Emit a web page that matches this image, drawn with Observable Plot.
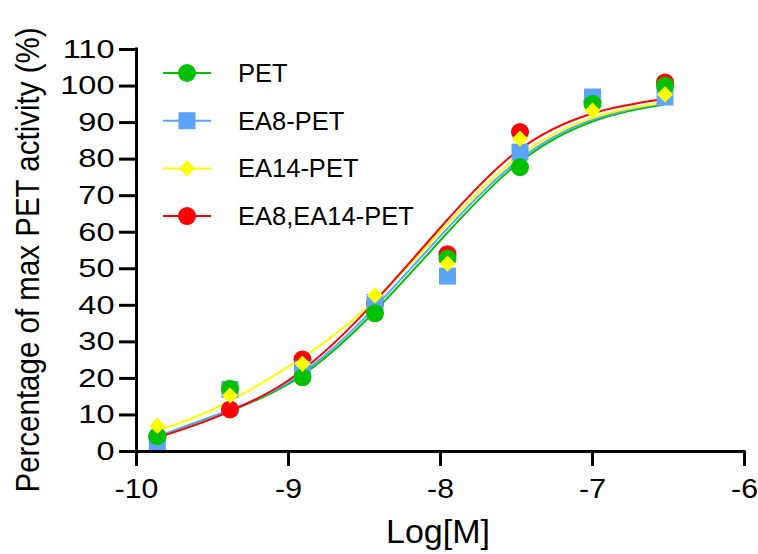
<!DOCTYPE html>
<html>
<head>
<meta charset="utf-8">
<script src="https://cdn.jsdelivr.net/npm/d3@7"></script>
<script src="https://cdn.jsdelivr.net/npm/@observablehq/plot@0.6"></script>
<style>
  body { margin: 0; background: #fff; }
  #wrap { position: relative; width: 758px; height: 554px; font-family: "Liberation Sans", Arial, sans-serif; color: #000; }
  #wrap svg { display: block; }
  .overlay { position: absolute; left: 0; top: 0; pointer-events: none; }
  #xtitle { position: absolute; left: 288px; width: 300px; top: 514px; text-align: center; font-size: 34px; line-height: 1; }
  #ytitle { position: absolute; left: 27px; top: 260px; width: 500px; margin-left: -250px; text-align: center; font-size: 29.5px; line-height: 1; transform: translateY(-50%) rotate(-90deg) scaleY(1.15); white-space: nowrap; }
</style>
</head>
<body>
<div id="wrap"></div>
<script>
// ---- data ----
const xDomain = [-10, -6];
const yDomain = [0, 110];
const xTicks = [-10, -9, -8, -7, -6];
const yTicks = [0, 10, 20, 30, 40, 50, 60, 70, 80, 90, 100, 110];

const seriesNames = ["PET", "EA8-PET", "EA14-PET", "EA8,EA14-PET"];

// measured points (Log[M], % of max PET activity)
const logConc = [-9.863, -9.385, -8.908, -8.431, -7.954, -7.477, -7.0, -6.523];
const petValues      = [4.2, 17.2, 20.3, 37.8, 52.8, 77.8, 95.1, 100.1];
const ea8Values      = [2.0, 17.0, 22.5, 40.8, 48.0, 81.9, 97.0, 97.0];
const ea14Values     = [7.0, 15.3, 24.0, 42.7, 51.4, 85.6, 93.3, 97.7];
const ea8ea14Values  = [4.0, 11.5, 25.2, 40.5, 54.0, 87.4, 95.8, 101.0];

// fitted curves
const fitX        = [-9.863, -9.5, -9.0, -8.5, -8.0, -7.5, -7.0, -6.523];
const petFit      = [4.0, 9.5, 18.5, 35.5, 57.8, 78.5, 90.3, 95.0];
const ea8Fit      = [4.0, 9.6, 19.0, 36.5, 59.0, 79.3, 90.8, 95.3];
const ea14Fit     = [5.7, 11.5, 23.2, 38.8, 60.2, 80.3, 91.3, 95.5];
const ea8ea14Fit  = [3.8, 9.0, 19.5, 38.0, 61.3, 82.0, 92.5, 96.5];

// ---- styling ----
const colors  = {"PET": "#00c000", "EA8-PET": "#5ba4f7", "EA14-PET": "#ffff00", "EA8,EA14-PET": "#ff0000"};
const symbols = {"PET": "circle", "EA8-PET": "square", "EA14-PET": "diamond2", "EA8,EA14-PET": "circle"};
const radii   = {"PET": 9, "EA8-PET": 9.6, "EA14-PET": 7.3, "EA8,EA14-PET": 9};

const pointsBy = {"PET": petValues, "EA8-PET": ea8Values, "EA14-PET": ea14Values, "EA8,EA14-PET": ea8ea14Values};
const fitsBy   = {"PET": petFit, "EA8-PET": ea8Fit, "EA14-PET": ea14Fit, "EA8,EA14-PET": ea8ea14Fit};

const pts = name => logConc.map((x, i) => ({x, y: pointsBy[name][i]}));
const fit = name => fitX.map((x, i) => ({x, y: fitsBy[name][i]}));

const lineOrder = ["PET", "EA8-PET", "EA14-PET", "EA8,EA14-PET"];
const dotOrder  = ["EA8,EA14-PET", "EA8-PET", "PET", "EA14-PET"];

const chart = Plot.plot({
  width: 758,
  height: 554,
  marginLeft: 136,
  marginRight: 14,
  marginTop: 49,
  marginBottom: 103,
  style: {fontFamily: '"Liberation Sans", Arial, sans-serif', background: "#fff", color: "#000", overflow: "visible"},
  x: {domain: xDomain},
  y: {domain: yDomain},
  marks: [
    ...lineOrder.map(n => Plot.line(fit(n), {x: "x", y: "y", stroke: colors[n], strokeWidth: 2, curve: "natural"})),
    ...dotOrder.map(n => Plot.dot(pts(n), {x: "x", y: "y", symbol: symbols[n], r: radii[n], fill: colors[n], stroke: "none"})),
    Plot.axisX({ticks: xTicks, tickFormat: d => String(d), tickSize: 15, tickPadding: 12, strokeWidth: 3, fontSize: 27, label: null}),
    Plot.axisY({ticks: yTicks, tickFormat: d => String(d), tickSize: 17, tickPadding: 5, strokeWidth: 3, fontSize: 26, label: null}),
    Plot.ruleY([yDomain[0]], {stroke: "#000", strokeWidth: 3, strokeLinecap: "square"}),
    Plot.ruleX([xDomain[0]], {stroke: "#000", strokeWidth: 3, strokeLinecap: "square"})
  ]
});

const wrap = document.getElementById("wrap");
wrap.appendChild(chart);

// widen tick labels horizontally (the reference text is horizontally stretched)
const stretch = (sel, k) => {
  chart.querySelectorAll(sel).forEach(t => {
    const tr = t.getAttribute("transform") || "";
    t.setAttribute("transform", tr + ` scale(${k},1)`);
  });
};
stretch('g[aria-label="y-axis tick label"] text', 1.25);
stretch('g[aria-label="x-axis tick label"] text', 1.12);

// axis titles
const xt = document.createElement("div");
xt.id = "xtitle"; xt.textContent = "Log[M]";
wrap.appendChild(xt);
const yt = document.createElement("div");
yt.id = "ytitle"; yt.textContent = "Percentage of max PET activity (%)";
wrap.appendChild(yt);

// legend (inside plot, top-left)
const legendTop = 73, legendStep = 47.7, lx0 = 163, lx1 = 211, textX = 238;
const leg = d3.select(wrap).append("svg").attr("class", "overlay").attr("width", 758).attr("height", 554);
seriesNames.forEach((n, i) => {
  const g = leg.append("g").attr("transform", `translate(0,${legendTop + i * legendStep})`);
  g.append("line").attr("x1", lx0).attr("x2", lx1).attr("y1", 0).attr("y2", 0).attr("stroke", colors[n]).attr("stroke-width", 2);
  const sym = {circle: d3.symbolCircle, square: d3.symbolSquare, diamond2: d3.symbolDiamond2}[symbols[n]];
  g.append("path").attr("transform", `translate(${(lx0 + lx1) / 2},0)`)
    .attr("d", d3.symbol(sym, Math.PI * radii[n] * radii[n])()).attr("fill", colors[n]);
  g.append("text").attr("x", textX).attr("y", 0).attr("dy", "0.35em")
    .attr("font-size", 25.5).attr("font-family", '"Liberation Sans", Arial, sans-serif')
    .attr("fill", "#000").text(n);
});
</script>
</body>
</html>
